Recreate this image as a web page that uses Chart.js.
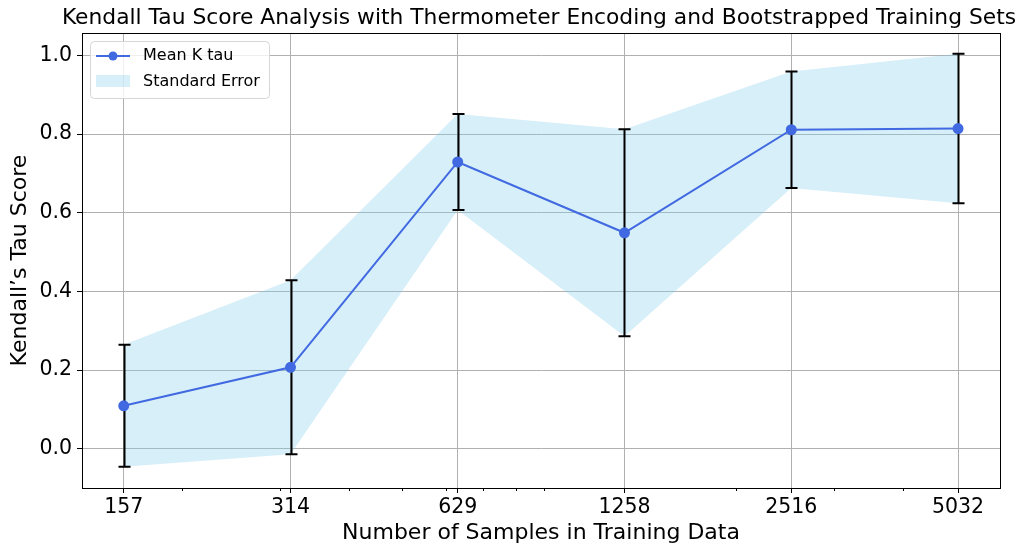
<!DOCTYPE html>
<html>
<head>
<meta charset="utf-8">
<script src="https://cdn.jsdelivr.net/npm/chart.js@4/dist/chart.umd.min.js"></script>
<style>
  html, body { margin: 0; padding: 0; background: #fff; }
  #wrap { width: 1028px; height: 546px; }
</style>
</head>
<body>
<div id="wrap"><canvas id="myChart"></canvas></div>
<script>
const samples = [157, 314, 629, 1258, 2516, 5032];
const meanTau = [0.109, 0.207, 0.729, 0.549, 0.811, 0.814];
const stdErr = [0.155, 0.221, 0.122, 0.263, 0.148, 0.190];
const minorTicks = [200, 300, 400, 500, 600, 700, 800, 900, 2000, 3000, 4000];
const yTicks = [0.0, 0.2, 0.4, 0.6, 0.8, 1.0];

const FONT = "'DejaVu Sans', sans-serif";

const meanPts = samples.map((s, i) => ({ x: s, y: meanTau[i] }));
const upperPts = samples.map((s, i) => ({ x: s, y: meanTau[i] + stdErr[i] }));
const lowerPts = samples.map((s, i) => ({ x: s, y: meanTau[i] - stdErr[i] }));

// error bars, drawn over the band but under the mean line
const errorBars = {
    id: 'errorBars',
    beforeDatasetDraw(chart, args) {
        if (args.index !== 0) return;
        const xs = chart.scales.x, ys = chart.scales.y;
        const c = chart.ctx;
        c.save();
        c.strokeStyle = '#000';
        c.lineWidth = 2;
        samples.forEach((s, i) => {
            const px = Math.round(xs.getPixelForValue(s)) + 0.5;
            const top = ys.getPixelForValue(meanTau[i] + stdErr[i]);
            const bot = ys.getPixelForValue(meanTau[i] - stdErr[i]);
            c.beginPath();
            c.moveTo(px, top); c.lineTo(px, bot);
            c.moveTo(px - 6, top); c.lineTo(px + 6, top);
            c.moveTo(px - 6, bot); c.lineTo(px + 6, bot);
            c.stroke();
        });
        c.restore();
    }
};

const frameAndExtras = {
    id: 'frameAndExtras',
    afterDraw(chart) {
        const c = chart.ctx;
        const area = chart.chartArea;
        const xs = chart.scales.x;
        c.save();

        // full frame
        c.strokeStyle = '#000';
        c.lineWidth = 1;
        c.strokeRect(Math.round(area.left) + 0.5, Math.round(area.top) + 0.5,
            Math.round(area.right - area.left), Math.round(area.bottom - area.top));

        // minor log ticks
        c.beginPath();
        minorTicks.forEach(v => {
            const px = Math.round(xs.getPixelForValue(v)) + 0.5;
            c.moveTo(px, area.bottom);
            c.lineTo(px, area.bottom + 3);
        });
        c.stroke();

        // title
        c.fillStyle = '#000';
        c.font = '21.8px ' + FONT;
        c.textAlign = 'center';
        c.textBaseline = 'middle';
        c.fillText('Kendall Tau Score Analysis with Thermometer Encoding and Bootstrapped Training Sets', 539, 18);

        // legend box
        const bx = 90, by = 41, bw = 179, bh = 57;
        c.beginPath();
        c.roundRect(bx + 0.5, by + 0.5, bw, bh, 4);
        c.fillStyle = 'rgba(255,255,255,0.8)';
        c.fill();
        c.strokeStyle = '#d6d6d6';
        c.lineWidth = 1;
        c.stroke();

        c.strokeStyle = '#4169E1';
        c.lineWidth = 2;
        c.beginPath();
        c.moveTo(96, 56); c.lineTo(130, 56);
        c.stroke();
        c.fillStyle = '#4169E1';
        c.beginPath();
        c.arc(113, 56, 4.5, 0, Math.PI * 2);
        c.fill();

        c.fillStyle = 'rgba(135,206,235,0.33)';
        c.fillRect(96, 75, 34, 12);

        c.fillStyle = '#000';
        c.font = '16px ' + FONT;
        c.textAlign = 'left';
        c.fillText('Mean K tau', 143, 56);
        c.fillText('Standard Error', 143, 82);
        c.restore();
    }
};

const ctx = document.getElementById('myChart');

new Chart(ctx, {
    type: 'line',
    data: {
        datasets: [{
            label: 'Mean K tau',
            data: meanPts,
            borderColor: '#4169E1',
            backgroundColor: '#4169E1',
            borderWidth: 2,
            pointRadius: 4.5,
            pointHoverRadius: 4.5,
            fill: false,
            order: 0
        }, {
            label: 'upper',
            data: upperPts,
            borderWidth: 0,
            borderColor: 'rgba(0,0,0,0)',
            backgroundColor: 'rgba(135,206,235,0.33)',
            pointRadius: 0,
            fill: '+1',
            order: 2
        }, {
            label: 'lower',
            data: lowerPts,
            borderWidth: 0,
            borderColor: 'rgba(0,0,0,0)',
            pointRadius: 0,
            fill: false,
            order: 1
        }]
    },
    options: {
        responsive: true,
        maintainAspectRatio: false,
        animation: false,
        layout: { padding: { top: 33, right: 28, left: 0, bottom: 0 } },
        scales: {
            x: {
                type: 'logarithmic',
                min: 132,
                max: 5990,
                afterBuildTicks(scale) {
                    scale.ticks = samples.map(v => ({ value: v }));
                },
                afterFit(scale) { scale.height = 58; },
                ticks: {
                    autoSkip: false,
                    maxRotation: 0,
                    color: '#000',
                    padding: 2,
                    font: { family: FONT, size: 20.5 },
                    callback: (v) => String(v)
                },
                grid: {
                    color: '#b0b0b0',
                    tickColor: '#000',
                    tickLength: 5,
                    lineWidth: 1
                },
                border: { color: '#000', width: 1 },
                title: {
                    display: true,
                    text: 'Number of Samples in Training Data',
                    color: '#000',
                    font: { family: FONT, size: 22 },
                    padding: { top: 0, bottom: 0 }
                }
            },
            y: {
                min: -0.1,
                max: 1.057,
                afterBuildTicks(scale) {
                    scale.ticks = yTicks.map(v => ({ value: v }));
                },
                afterFit(scale) { scale.width = 82; },
                ticks: {
                    color: '#000',
                    padding: 5,
                    font: { family: FONT, size: 20.5 },
                    callback: (v) => v.toFixed(1)
                },
                grid: {
                    color: '#b0b0b0',
                    tickColor: '#000',
                    tickLength: 5,
                    lineWidth: 1
                },
                border: { color: '#000', width: 1 },
                title: {
                    display: true,
                    text: 'Kendall\u2019s Tau Score',
                    color: '#000',
                    font: { family: FONT, size: 22 },
                    padding: { top: 7, bottom: 0 }
                }
            }
        },
        plugins: {
            legend: { display: false },
            tooltip: { enabled: false }
        }
    },
    plugins: [errorBars, frameAndExtras]
});
</script>
</body>
</html>
